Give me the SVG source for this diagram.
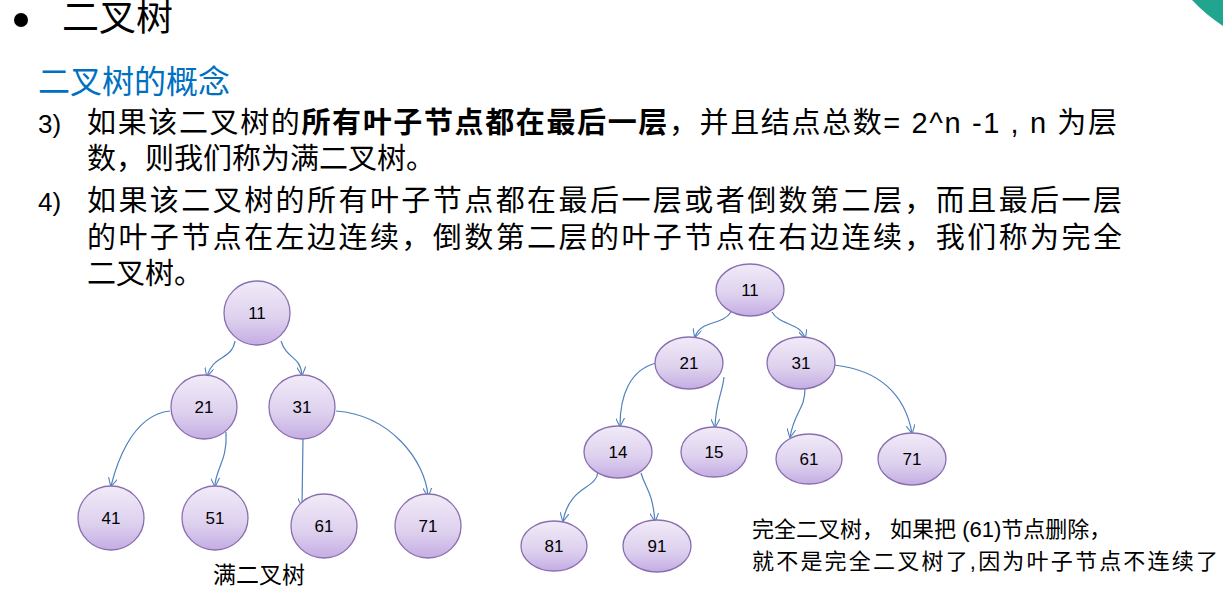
<svg xmlns="http://www.w3.org/2000/svg" width="1223" height="590" viewBox="0 0 1223 590">
<style>
.t{font-family:"Liberation Sans","Noto Sans CJK SC",sans-serif;fill:#000}
.n ellipse{fill:url(#g);stroke:#8a6fb0;stroke-width:1.3}
.n text{font-family:"Liberation Sans",sans-serif;font-size:17px;text-anchor:middle;fill:#000}
.c path{fill:none;stroke:#4f81bd;stroke-width:1.2;marker-end:url(#a)}
</style>
<defs>
<linearGradient id="g" x1="0" y1="0" x2="0" y2="1"><stop offset="0" stop-color="#f1ebf8"/><stop offset="0.6" stop-color="#ddd0ee"/><stop offset="1" stop-color="#c4ade3"/></linearGradient>
<marker id="a" viewBox="0 0 10 10" refX="9" refY="5" markerWidth="9" markerHeight="9" orient="auto" markerUnits="userSpaceOnUse"><path d="M0,0 L10,5 L0,10" fill="none" stroke="#4f81bd" stroke-width="1.2"/></marker>
</defs>
<rect width="1223" height="590" fill="#fff"/>
<path d="M1192,0 L1223,0 L1223,26 Q1205,14 1192,0Z" fill="#21a58f"/>
<circle cx="21" cy="20" r="7" fill="#000"/>
<text class="t" x="62" y="31" font-size="37">二叉树</text>
<text class="t" x="38" y="93" font-size="32" style="fill:#0070c0">二叉树的概念</text>
<text class="t" x="38" y="133" font-size="26">3)</text>
<text class="t" x="87" y="133" font-size="29" textLength="1030">如果该二叉树的<tspan font-weight="bold">所有叶子节点都在最后一层</tspan>，并且结点总数= 2^n -1 , n 为层</text>
<text class="t" x="87" y="169" font-size="29">数，则我们称为满二叉树。</text>
<text class="t" x="38" y="211" font-size="26">4)</text>
<text class="t" x="87" y="211" font-size="29" textLength="1035">如果该二叉树的所有叶子节点都在最后一层或者倒数第二层，而且最后一层</text>
<text class="t" x="87" y="248" font-size="29" textLength="1035">的叶子节点在左边连续，倒数第二层的叶子节点在右边连续，我们称为完全</text>
<text class="t" x="87" y="284" font-size="29">二叉树。</text>
<text class="t" x="213" y="583" font-size="23">满二叉树</text>
<text class="t" x="752" y="537" font-size="22">完全二叉树， 如果把 (61)节点删除，</text>
<text class="t" x="752" y="569" font-size="22" textLength="466">就不是完全二叉树了,因为叶子节点不连续了</text>
<g class="c">
<path d="M235,341 C232,360 213,355 207,376"/>
<path d="M281,341 C287,360 300,355 302,375"/>
<path d="M170,411 C130,415 115,470 111,486"/>
<path d="M226,432 C228,460 215,470 215,486"/>
<path d="M303,438 L302,506"/>
<path d="M336,411 C390,415 425,460 428,496"/>
<path d="M731,312 C722,326 700,320 695,337"/>
<path d="M772,312 C780,326 800,322 805,338"/>
<path d="M656,363 C630,370 620,395 620,426"/>
<path d="M724,377 C722,395 716,400 715,427"/>
<path d="M805,388 C805,410 795,410 790,437"/>
<path d="M834,365 C880,370 905,395 912,433"/>
<path d="M598,472 C596,490 570,485 563,521"/>
<path d="M641,473 C646,490 652,490 655,521"/>
</g>
<g id="L11" class="n"><ellipse cx="257" cy="313" rx="33" ry="32"/><text x="257" y="319">11</text></g>
<g id="L21" class="n"><ellipse cx="204" cy="407" rx="33" ry="32"/><text x="204" y="413">21</text></g>
<g id="L31" class="n"><ellipse cx="302" cy="407" rx="33" ry="32"/><text x="302" y="413">31</text></g>
<g id="L41" class="n"><ellipse cx="111" cy="518" rx="33" ry="32"/><text x="111" y="524">41</text></g>
<g id="L51" class="n"><ellipse cx="215" cy="518" rx="33" ry="32"/><text x="215" y="524">51</text></g>
<g id="L61" class="n"><ellipse cx="324" cy="526" rx="33" ry="32"/><text x="324" y="532">61</text></g>
<g id="L71" class="n"><ellipse cx="428" cy="526" rx="33" ry="32"/><text x="428" y="532">71</text></g>
<g id="R11" class="n"><ellipse cx="750" cy="290" rx="34" ry="26"/><text x="750" y="296">11</text></g>
<g id="R21" class="n"><ellipse cx="689" cy="363" rx="34" ry="26"/><text x="689" y="369">21</text></g>
<g id="R31" class="n"><ellipse cx="801" cy="363" rx="34" ry="26"/><text x="801" y="369">31</text></g>
<g id="R14" class="n"><ellipse cx="618" cy="452" rx="34" ry="26"/><text x="618" y="458">14</text></g>
<g id="R15" class="n"><ellipse cx="714" cy="452" rx="33" ry="25"/><text x="714" y="458">15</text></g>
<g id="R61" class="n"><ellipse cx="809" cy="459" rx="33" ry="25"/><text x="809" y="465">61</text></g>
<g id="R71" class="n"><ellipse cx="912" cy="459" rx="34" ry="26"/><text x="912" y="465">71</text></g>
<g id="R81" class="n"><ellipse cx="554" cy="546" rx="33" ry="25"/><text x="554" y="552">81</text></g>
<g id="R91" class="n"><ellipse cx="657" cy="546" rx="34" ry="26"/><text x="657" y="552">91</text></g>
</svg>
